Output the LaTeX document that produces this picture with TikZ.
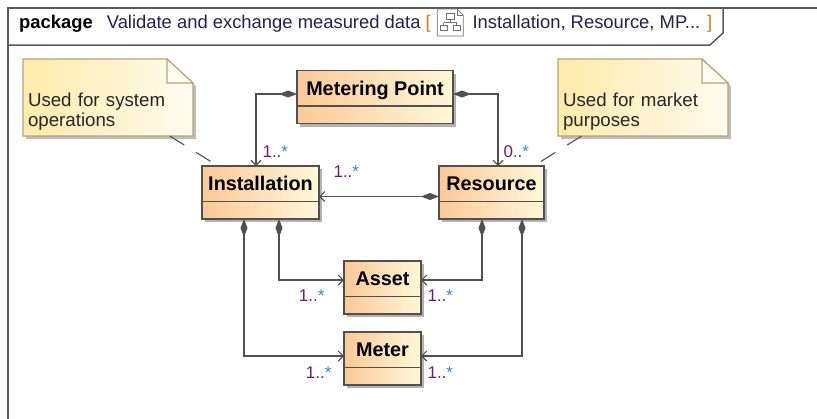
\documentclass[tikz,border=0pt]{standalone}
\usepackage{fontspec}
\setmainfont{Liberation Sans}
\usetikzlibrary{arrows.meta,positioning,shadows,backgrounds}

\definecolor{edge}{HTML}{505050}
\definecolor{framec}{HTML}{5A5A5A}
\definecolor{clsL}{HTML}{FCC996}
\definecolor{clsR}{HTML}{FFF8D8}
\definecolor{noteL}{HTML}{FFEBAA}
\definecolor{noteR}{HTML}{FFFCF0}
\definecolor{noteline}{HTML}{B4A474}
\definecolor{multc}{HTML}{6A1E78}
\definecolor{starc}{HTML}{3C86C8}
\definecolor{brk}{HTML}{D67A10}
\definecolor{hdrc}{HTML}{22224A}

\newcommand{\mlt}[1]{\textcolor{multc}{#1..}\textcolor{starc}{*}}

\tikzset{
  cls/.style={draw=edge, line width=1.1pt, left color=clsL, right color=clsR,
    inner xsep=4pt, inner ysep=0pt, text height=24.5pt, text depth=28.5pt, outer sep=0pt,
    font=\fontsize{19.8}{22}\selectfont\bfseries,
    drop shadow={shadow xshift=3pt, shadow yshift=-3pt, fill=black!30, opacity=1},
    path picture={\draw[edge, line width=1.1pt]
      ([yshift=-35.5pt]path picture bounding box.north west) --
      ([yshift=-35.5pt]path picture bounding box.north east);}},
  notetxt/.style={inner xsep=5pt, inner ysep=0pt, outer sep=0pt, text width=160pt, align=left,
    text height=47pt, text depth=30pt, font=\fontsize{18.7}{20}\selectfont, text=black!85},
  noteshape/.style={draw=noteline, line width=1.1pt, left color=noteL, right color=noteR,
    drop shadow={shadow xshift=3pt, shadow yshift=-3pt, fill=black!25, opacity=1}},
  notefold/.style={draw=noteline, line width=1.1pt, fill=noteR},
  comp/.style={draw=edge, line width=1.1pt,
    {Diamond[length=18pt,width=7pt]}-{Straight Barb[length=5pt,width=10pt]}},
  mult/.style={inner sep=0pt, font=\fontsize{17}{20}\selectfont},
  anchorline/.style={draw=edge, line width=1.1pt, dash pattern=on 17pt off 14pt},
  framel/.style={draw=framec, line width=1.5pt},
  hdrtxt/.style={inner sep=0pt, font=\fontsize{18.4}{20}\selectfont, text=hdrc},
}

\begin{document}
\begin{tikzpicture}[x=1pt, y=-1pt, on grid]
  \useasboundingbox (0,0) rectangle (817,418);

  % frame and header
  \draw[framel] (817,8) -- (8,8) -- (8,420);
  \draw[framel] (8,45) -- (710,45) -- (723,33) -- (723,8);
  \node[hdrtxt, anchor=base west] (hdr) at (19,28)
    {\textcolor{black}{\bfseries package}\hspace{14pt}Validate and exchange measured data \textcolor{brk}{[}};
  \node[minimum width=26pt, minimum height=27pt, inner sep=0pt, anchor=west, xshift=6pt, yshift=5.5pt]
    (icon) at (hdr.base east) {};
  \node[hdrtxt, anchor=base west, xshift=9pt] (hdr2) at (icon.east |- hdr.base)
    {Installation, Resource, MP... \textcolor{brk}{]}};
  \begin{scope}[shift={(icon.center)}, draw=black!55, line width=0.8pt]
    \draw[fill=white] (-13,-13.5) -- (7,-13.5) -- (13,-7.5) -- (13,13.5) -- (-13,13.5) -- cycle;
    \draw (7,-13.5) |- (13,-7.5);
    \draw (-4,-9) rectangle (4,-3);
    \draw (0,-3) -- (0,0) (-6.5,0) -- (6.5,0) (-6.5,0) -- (-6.5,3) (6.5,0) -- (6.5,3);
    \draw (-10,3) rectangle (-3,8);
    \draw (3,3) rectangle (10,8);
  \end{scope}

  % classes
  \node[cls, minimum width=156pt] (mp) at (375,97) {Metering Point};
  \node[cls, minimum width=117pt, below left = 95.5pt and 114.5pt of mp] (inst) {Installation};
  \node[cls, minimum width=105pt, right = 231pt of inst] (res) {Resource};
  \node[cls, minimum width=77pt, below right = 95pt and 122pt of inst] (asset) {Asset};
  \node[cls, minimum width=77pt, below = 71pt of asset] (meter) {Meter};

  % notes
  \node[notetxt] (note1) at (108,97.5) {Used for system operations};
  \node[notetxt, right = 535pt of note1] (note2) {Used for market purposes};
  \begin{pgfonlayer}{background}
    \draw[noteshape] (note1.north west) -- ([xshift=-26pt]note1.north east)
      -- ([yshift=-24pt]note1.north east) -- (note1.south east) -- (note1.south west) -- cycle;
    \draw[notefold] ([xshift=-26pt]note1.north east) |- ([yshift=-24pt]note1.north east) -- cycle;
    \draw[noteshape] (note2.north west) -- ([xshift=-26pt]note2.north east)
      -- ([yshift=-24pt]note2.north east) -- (note2.south east) -- (note2.south west) -- cycle;
    \draw[notefold] ([xshift=-26pt]note2.north east) |- ([yshift=-24pt]note2.north east) -- cycle;
  \end{pgfonlayer}
  \draw[anchorline] (note1) -- (inst);
  \draw[anchorline] (note2) -- (res);

  % compositions
  \draw[comp] ([yshift=3pt]mp.west) -| ([xshift=-4.5pt]inst.north)
    node[mult, at end, anchor=base west, xshift=6pt, yshift=9pt] {\mlt{1}};
  \draw[comp] ([yshift=3pt]mp.east) -| ([xshift=6.5pt]res.north)
    node[mult, at end, anchor=base west, xshift=5pt, yshift=9pt] {\mlt{0}};
  \draw[comp] ([yshift=-4pt]res.west) -- ([yshift=-4pt]inst.east)
    node[mult, at end, anchor=base west, xshift=14pt, yshift=19.5pt] {\mlt{1}};
  \draw[comp] ([xshift=18.5pt]inst.south) |- ([yshift=7.5pt]asset.west)
    node[mult, at end, anchor=base east, xshift=-19pt, yshift=-21pt] {\mlt{1}};
  \draw[comp] ([xshift=-16.5pt]inst.south) |- ([yshift=2.5pt]meter.west)
    node[mult, at end, anchor=base east, xshift=-12pt, yshift=-22pt] {\mlt{1}};
  \draw[comp] ([xshift=-9.5pt]res.south) |- ([yshift=7.5pt]asset.east)
    node[mult, at end, anchor=base west, xshift=6pt, yshift=-21pt] {\mlt{1}};
  \draw[comp] ([xshift=30.5pt]res.south) |- ([yshift=2.5pt]meter.east)
    node[mult, at end, anchor=base west, xshift=6pt, yshift=-22pt] {\mlt{1}};
\end{tikzpicture}
\end{document}
